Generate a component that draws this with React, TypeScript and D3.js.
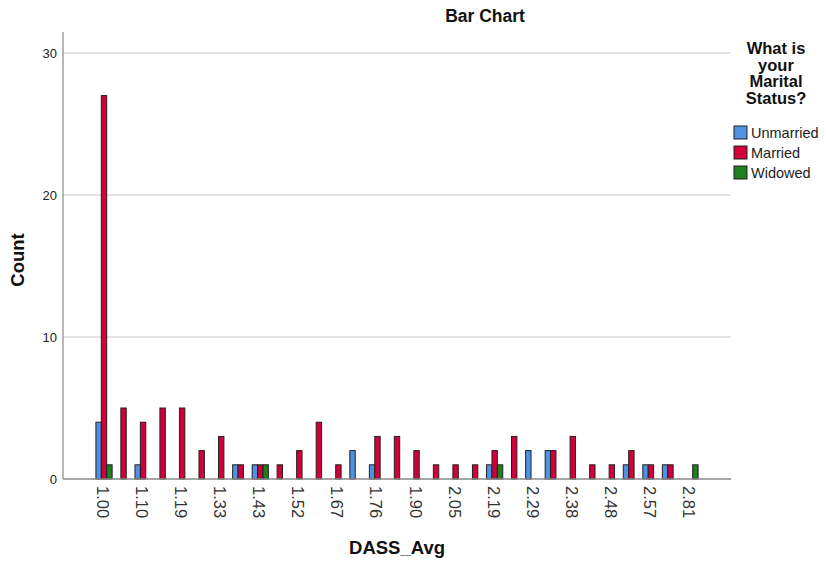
import React from "react";
import * as d3 from "d3";

const categories = [
  "1.00", "1.05", "1.10", "1.14", "1.19", "1.24", "1.33", "1.38", "1.43", "1.48",
  "1.52", "1.62", "1.67", "1.71", "1.76", "1.81", "1.90", "1.95", "2.05", "2.10",
  "2.19", "2.24", "2.29", "2.33", "2.38", "2.43", "2.48", "2.52", "2.57", "2.62", "2.81",
];
const unmarried = [4, 0, 1, 0, 0, 0, 0, 1, 1, 0, 0, 0, 0, 2, 1, 0, 0, 0, 0, 0, 1, 0, 2, 2, 0, 0, 0, 1, 1, 1, 0];
const married = [27, 5, 4, 5, 5, 2, 3, 1, 1, 1, 2, 4, 1, 0, 3, 3, 2, 1, 1, 1, 2, 3, 0, 2, 3, 1, 1, 2, 1, 1, 0];
const widowed = [1, 0, 0, 0, 0, 0, 0, 0, 1, 0, 0, 0, 0, 0, 0, 0, 0, 0, 0, 0, 1, 0, 0, 0, 0, 0, 0, 0, 0, 0, 1];
const seriesNames = ["Unmarried", "Married", "Widowed"];
const seriesColors = ["#4F92E3", "#D2003A", "#1F7F1F"];
const yTicks = [0, 10, 20, 30];
const legendTitle = ["What is", "your", "Marital", "Status?"];

const FONT = "'Liberation Sans', Arial, sans-serif";

export default function App() {
  const W = 826, H = 567;
  const left = 63, right = 731, top = 32, bottom = 479;
  const x = d3.scalePoint<string>().domain(categories).range([left, right]).padding(2.1);
  const y = d3.scaleLinear().domain([0, 30]).range([bottom, 53]);
  const sub = d3.scaleBand<string>().domain(seriesNames).range([-8.1, 8.1]).padding(0);
  const seriesValues = [unmarried, married, widowed];

  return (
    <svg width={W} height={H} style={{ position: "absolute", left: 0, top: 0, background: "#fff" }} fontFamily={FONT}>
      {yTicks.filter((t) => t > 0).map((t) => (
        <line key={t} x1={left} x2={right} y1={y(t)} y2={y(t)} stroke="#c8c8c8" strokeWidth={1} />
      ))}
      {categories.map((c, i) =>
        seriesNames.map((s, j) => {
          const v = seriesValues[j][i];
          if (!v) return null;
          const bx = (x(c) as number) + (sub(s) as number);
          return (
            <rect
              key={c + s}
              x={bx}
              y={y(v)}
              width={sub.bandwidth()}
              height={bottom - y(v)}
              fill={seriesColors[j]}
              stroke="#222"
              strokeWidth={1}
            />
          );
        })
      )}
      <line x1={left} x2={left} y1={top} y2={bottom} stroke="#888" strokeWidth={1.2} />
      <line x1={left} x2={right} y1={bottom} y2={bottom} stroke="#888" strokeWidth={1.5} />
      {yTicks.map((t) => (
        <text key={t} x={57} y={y(t)} dy="0.35em" textAnchor="end" fontSize={13} fill="#222">
          {t}
        </text>
      ))}
      {categories.map((c, i) =>
        i % 2 === 0 ? (
          <text
            key={c}
            transform={`translate(${(x(c) as number) - 1},486) rotate(90)`}
            dominantBaseline="central"
            fontSize={16.5}
            fill="#333"
          >
            {c}
          </text>
        ) : null
      )}
      <text x={397} y={548} dy="0.35em" textAnchor="middle" fontSize={18.5} fontWeight="bold" fill="#111">
        DASS_Avg
      </text>
      <text transform="translate(18,260) rotate(-90)" dy="0.35em" textAnchor="middle" fontSize={18.5} fontWeight="bold" fill="#111">
        Count
      </text>
      <text x={485} y={16} dy="0.35em" textAnchor="middle" fontSize={17.5} fontWeight="bold" fill="#111">
        Bar Chart
      </text>
      {legendTitle.map((l, i) => (
        <text key={l} x={776} y={48 + i * 16.8} dy="0.35em" textAnchor="middle" fontSize={16.5} fontWeight="bold" fill="#111">
          {l}
        </text>
      ))}
      {seriesNames.map((s, j) => (
        <g key={s} transform={`translate(734,${126 + j * 20})`}>
          <rect x={0} y={0} width={13} height={13} fill={seriesColors[j]} stroke="#222" strokeWidth={1} />
          <text x={17} y={6.5} dy="0.35em" fontSize={14.5} fill="#222">
            {s}
          </text>
        </g>
      ))}
    </svg>
  );
}
